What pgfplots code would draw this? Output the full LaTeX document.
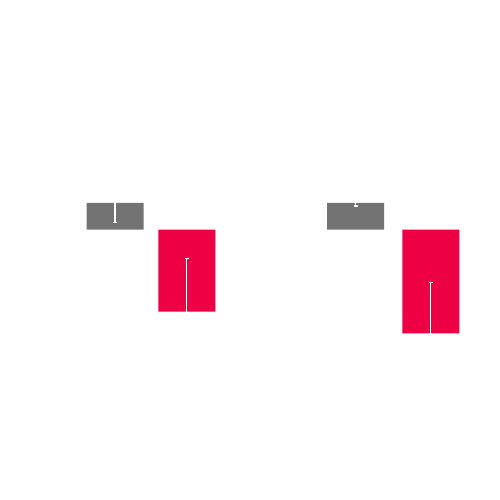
\documentclass[border=0pt]{standalone}
\usepackage{pgfplots}
\pgfplotsset{compat=1.18}
\definecolor{barGray}{RGB}{115,115,115}
\definecolor{barRed}{RGB}{238,0,68}
\begin{document}
\begin{tikzpicture}
\begin{axis}[
  width=10cm, height=10cm, scale only axis,
  hide axis,
  xmin=0, xmax=500,
  ymin=-10.124, ymax=8.603,
  ybar, bar width=57,
  clip=false,
  error bars/error bar style={white, line width=0.6pt},
  error bars/error mark options={white, rotate=90, mark size=1.2pt, line width=0.6pt},
]
\path (rel axis cs:0,0) rectangle (rel axis cs:1,1);
\addplot[fill=barGray, draw=none, bar shift=0pt,
  error bars/.cd, y dir=both, y explicit]
  coordinates {(115,1) +- (0,0.723) (355.7,1) +- (0,0.112)};
\addplot[fill=barRed, draw=none, bar shift=0pt,
  error bars/.cd, y dir=both, y explicit]
  coordinates {(186.8,-3.071) +- (0,2.0) (430.8,-3.880) +- (0,1.91)};
\end{axis}
\end{tikzpicture}
\end{document}
